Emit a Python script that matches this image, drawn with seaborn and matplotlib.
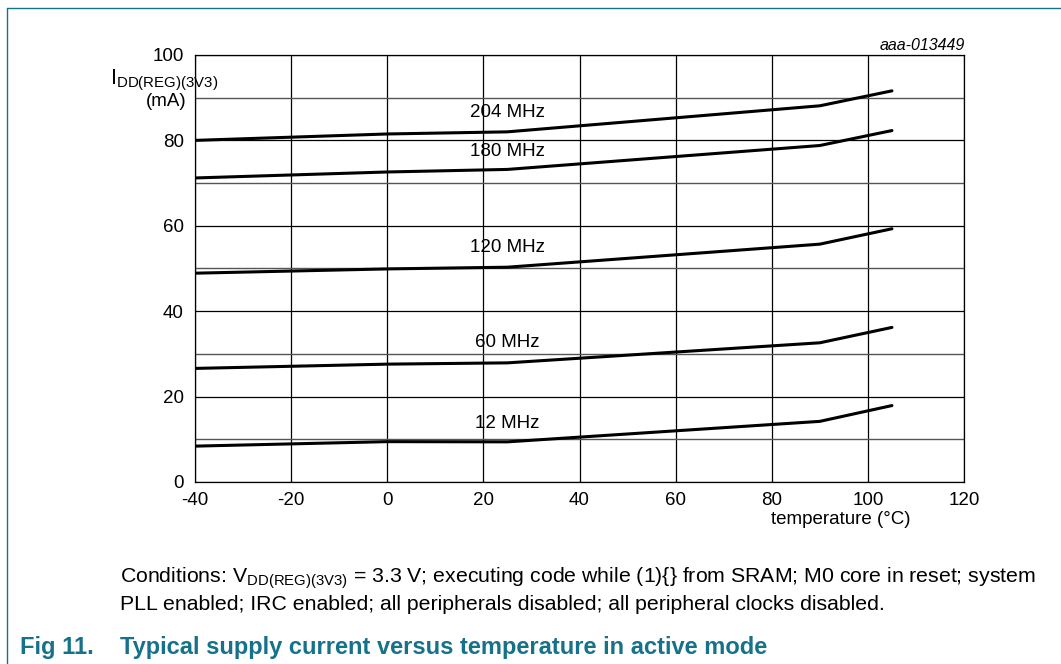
import matplotlib
matplotlib.use("Agg")
import matplotlib.pyplot as plt
import seaborn as sns
import pandas as pd
from matplotlib.lines import Line2D

sns.set_theme(style="white")
plt.rcParams['font.family'] = ['Liberation Sans', 'DejaVu Sans']
plt.rcParams['mathtext.fontset'] = 'custom'
plt.rcParams['mathtext.rm'] = 'Liberation Sans'
plt.rcParams['mathtext.it'] = 'Liberation Sans:italic'
plt.rcParams['text.color'] = 'black'
plt.rcParams['axes.unicode_minus'] = False

TEAL = '#16728a'

# data
temperature = [-40, 0, 25, 90, 105]
freqs = ['204 MHz', '180 MHz', '120 MHz', '60 MHz', '12 MHz']
i_204 = [80.0, 81.5, 82.0, 88.1, 91.6]
i_180 = [71.2, 72.6, 73.2, 78.8, 82.3]
i_120 = [48.9, 49.9, 50.3, 55.7, 59.3]
i_60 = [26.6, 27.6, 27.9, 32.6, 36.2]
i_12 = [8.4, 9.45, 9.4, 14.2, 17.9]
label_y = [86.6, 77.5, 55.0, 32.7, 13.7]
label_x = 25

rows = []
for f, vals in zip(freqs, [i_204, i_180, i_120, i_60, i_12]):
    for t, v in zip(temperature, vals):
        rows.append({'temp': t, 'idd': v, 'freq': f})
df = pd.DataFrame(rows)

fig = plt.figure(figsize=(10.61, 6.64), dpi=100)
ax = fig.add_axes([0.1838, 0.2741, 0.7248, 0.6431])

sns.lineplot(data=df, x='temp', y='idd', hue='freq', palette=['black'] * 5,
             linewidth=2.2, legend=False, ax=ax, sort=False, zorder=3)

ax.set_xlim(-40, 120)
ax.set_ylim(0, 100)
ax.set_xticks(range(-40, 121, 20))
ax.set_yticks(range(0, 101, 20))
ax.set_yticks(range(10, 100, 20), minor=True)
ax.grid(True, which='major', color='black', linewidth=0.9)
ax.grid(True, which='minor', axis='y', color='#555555', linewidth=1.0)
ax.tick_params(axis='both', which='both', length=0, labelsize=13.5, colors='black')
ax.tick_params(axis='x', pad=7)
ax.tick_params(axis='y', pad=8)
for s in ax.spines.values():
    s.set_color('black')
    s.set_linewidth(0.9)
ax.set_xlabel('')
ax.set_ylabel('')

for f, ly in zip(freqs, label_y):
    ax.text(label_x, ly, f, ha='center', va='center', fontsize=13.5, zorder=4)

# axis titles
fig.text(0.1037, 0.879, r'$\mathregular{I_{DD(REG)(3V3)}}$', fontsize=15.5, ha='left', va='center')
fig.text(0.176, 0.847, '(mA)', fontsize=13.5, ha='right', va='center')
fig.text(0.792, 0.218, 'temperature (°C)', fontsize=13.5, ha='center', va='center')
fig.text(0.909, 0.932, 'aaa-013449', fontsize=11.5, style='italic', ha='right', va='center')

# conditions and caption
fig.text(0.113, 0.129,
         r'Conditions: V$_{\mathregular{DD(REG)(3V3)}}$ = 3.3 V; executing code while (1){} from SRAM; M0 core in reset; system',
         fontsize=15.3, ha='left', va='center')
fig.text(0.113, 0.089,
         'PLL enabled; IRC enabled; all peripherals disabled; all peripheral clocks disabled.',
         fontsize=15.3, ha='left', va='center')
fig.text(0.019, 0.025, 'Fig 11.', fontsize=17, fontweight='bold', color=TEAL, ha='left', va='center')
fig.text(0.113, 0.025, 'Typical supply current versus temperature in active mode',
         fontsize=17, fontweight='bold', color=TEAL, ha='left', va='center')

# frame lines
fig.add_artist(Line2D([0.0066, 0.0066], [0, 0.988], color=TEAL, linewidth=1.0, transform=fig.transFigure))
fig.add_artist(Line2D([0.0066, 1.0], [0.988, 0.988], color=TEAL, linewidth=1.0, transform=fig.transFigure))

fig.savefig('out.png', dpi=100)
